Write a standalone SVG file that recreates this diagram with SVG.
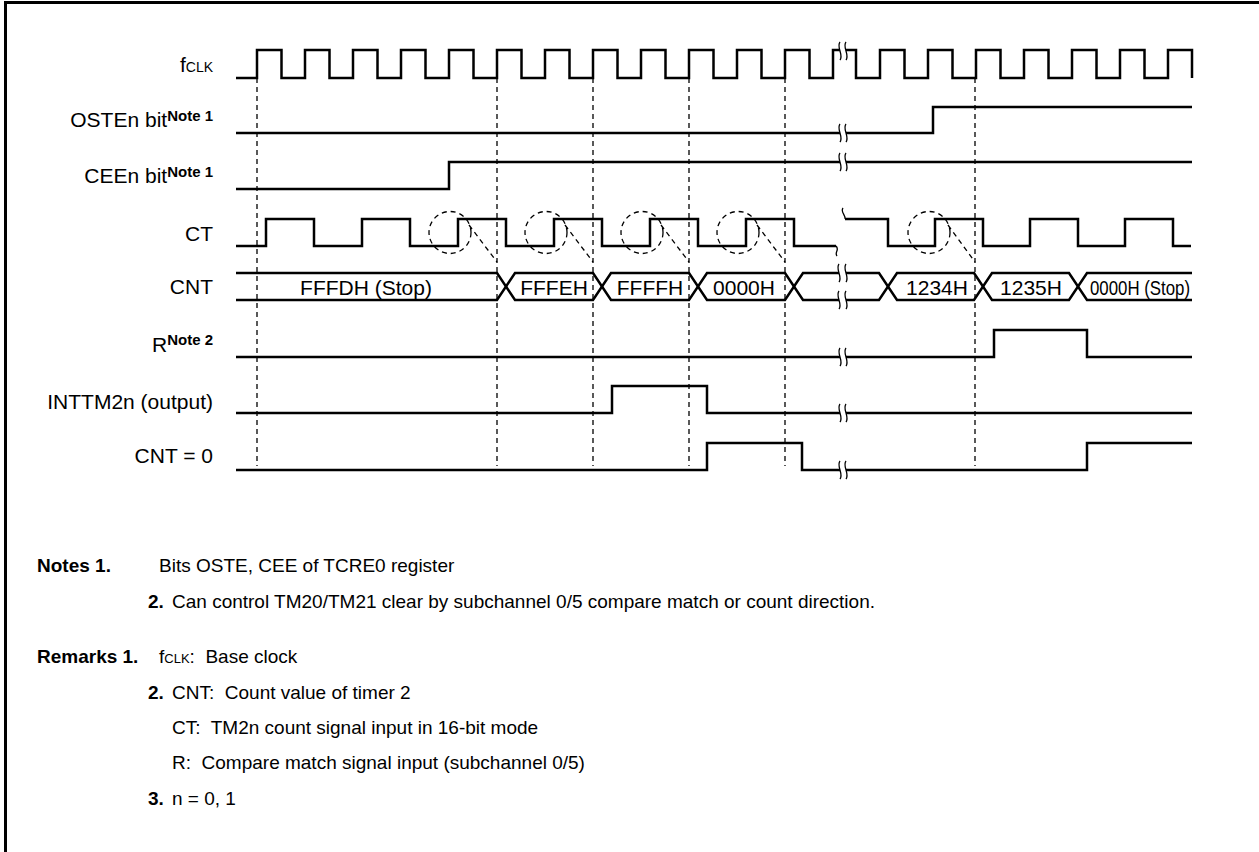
<svg xmlns="http://www.w3.org/2000/svg" width="1259" height="852" viewBox="0 0 1259 852">
<style>
text{font-family:"Liberation Sans",Arial,sans-serif;font-size:21px;fill:#000}
.lbl{text-anchor:end}
.sup{font-size:15px;font-weight:bold}
.sc{font-size:14px}
.b{font-weight:bold}
.mid{text-anchor:middle}
.sig{fill:none;stroke:#000;stroke-width:2.5;stroke-linejoin:miter}
.brk{fill:none;stroke:#000;stroke-width:1.3}
.dash{fill:none;stroke:#000;stroke-width:1.3;stroke-dasharray:5,4}
.note{font-size:19px}
</style>
<defs>
<path id="bk" d="M0,-9 C-4,-4 4,4 0,9" class="brk"/>
</defs>
<path d="M5.5,852 V2.5 H1259" fill="none" stroke="#000" stroke-width="3"/>

<g id="guides">
<path class="dash" d="M257,78 V466 M497,78 V466 M593,78 V466 M689,78 V466 M785,78 V466 M975,78 V466"/>
</g>

<g id="fclk">
<text class="lbl" x="213" y="72">f<tspan class="sc">CLK</tspan></text>
<path class="sig" d="M236,78 H257 V50 H281.5 V78 H305 V50 H329.5 V78 H353 V50 H377.5 V78 H401 V50 H425.5 V78 H449 V50 H473.5 V78 H497 V50 H521.5 V78 H545 V50 H569.5 V78 H593 V50 H617.5 V78 H641 V50 H665.5 V78 H689 V50 H713.5 V78 H737 V50 H761.5 V78 H785 V50 H809.5 V78 H833 V50 H840"/>
<path class="sig" d="M846,50 H856 V78 H880 V50 H904.5 V78 H928 V50 H952.5 V78 H976 V50 H1000.5 V78 H1024 V50 H1048.5 V78 H1072 V50 H1096.5 V78 H1120 V50 H1144.5 V78 H1168 V50 H1192 V78"/>
<use href="#bk" x="840" y="51"/><use href="#bk" x="846" y="51"/>
</g>

<g id="osten">
<text class="lbl" x="213" y="127">OSTEn bit<tspan class="sup" dy="-6">Note 1</tspan></text>
<path class="sig" d="M236,133 H840 M846,133 H933 V107 H1192"/>
<use href="#bk" x="840" y="133"/><use href="#bk" x="846" y="133"/>
</g>

<g id="ceen">
<text class="lbl" x="213" y="183">CEEn bit<tspan class="sup" dy="-6">Note 1</tspan></text>
<path class="sig" d="M236,189 H449 V162 H840 M846,162 H1192"/>
<use href="#bk" x="840" y="162"/><use href="#bk" x="846" y="162"/>
</g>

<g id="ct">
<text class="lbl" x="213" y="241">CT</text>
<path class="sig" d="M236,246 H266 V219 H314 V246 H362 V219 H410 V246 H458 V219 H506 V246 H554 V219 H602 V246 H650 V219 H698 V246 H746 V219 H794 V246 H836"/>
<path class="brk" d="M836,246 C840,250 834,252 837,256"/>
<path class="brk" d="M843,208 C840,212 846,215 845,219"/>
<path class="sig" d="M845,219 H888 V246 H935 V219 H983 V246 H1030 V219 H1078 V246 H1125 V219 H1173 V246 H1191"/>
<g class="dash">
<circle cx="450" cy="232.5" r="21"/><path d="M469,225 L497,262"/>
<circle cx="546" cy="232.5" r="21"/><path d="M565,225 L593,262"/>
<circle cx="642" cy="232.5" r="21"/><path d="M661,225 L689,262"/>
<circle cx="738" cy="232.5" r="21"/><path d="M757,225 L785,262"/>
<circle cx="929" cy="232.5" r="21"/><path d="M948,225 L975,262"/>
</g>
</g>

<g id="cnt">
<text class="lbl" x="213" y="294">CNT</text>
<path class="sig" d="M236,273 H497 L515,300 H593 L611,273 H689 L707,300 H785 L803,273 H839"/>
<path class="sig" d="M236,300 H497 L515,273 H593 L611,300 H689 L707,273 H785 L803,300 H839"/>
<path class="sig" d="M846,273 H879 L897,300 H974 L992,273 H1069 L1087,300 H1192"/>
<path class="sig" d="M846,300 H879 L897,273 H974 L992,300 H1069 L1087,273 H1192"/>
<use href="#bk" x="839" y="273"/><use href="#bk" x="846" y="273"/>
<use href="#bk" x="839" y="300"/><use href="#bk" x="846" y="300"/>
<text class="mid" x="366" y="295">FFFDH (Stop)</text>
<text class="mid" x="554" y="295">FFFEH</text>
<text class="mid" x="650" y="295">FFFFH</text>
<text class="mid" x="744" y="295">0000H</text>
<text class="mid" x="937" y="295">1234H</text>
<text class="mid" x="1031" y="295">1235H</text>
<text x="1090" y="295" font-size="18" textLength="100" lengthAdjust="spacingAndGlyphs">0000H (Stop)</text>
</g>

<g id="r">
<text class="lbl" x="213" y="352">R<tspan class="sup" dy="-7">Note 2</tspan></text>
<path class="sig" d="M236,357 H840 M846,357 H994 V330 H1087 V357 H1192"/>
<use href="#bk" x="840" y="357"/><use href="#bk" x="846" y="357"/>
</g>

<g id="inttm">
<text class="lbl" x="213" y="409">INTTM2n (output)</text>
<path class="sig" d="M236,413 H612 V386 H707 V413 H840 M846,413 H1192"/>
<use href="#bk" x="840" y="413"/><use href="#bk" x="846" y="413"/>
</g>

<g id="cnt0">
<text class="lbl" x="213" y="463">CNT = 0</text>
<path class="sig" d="M236,470 H707 V443 H802 V470 H840 M846,470 H1087 V443 H1192"/>
<use href="#bk" x="840" y="470"/><use href="#bk" x="846" y="470"/>
</g>

<g id="notes">
<text x="37" y="572" class="note b">Notes 1.</text>
<text x="159" y="572" class="note">Bits OSTE, CEE of TCRE0 register</text>
<text x="148" y="608" class="note b">2.</text>
<text x="172" y="608" class="note">Can control TM20/TM21 clear by subchannel 0/5 compare match or count direction.</text>
<text x="37" y="663" class="note b">Remarks 1.</text>
<text x="159" y="663" class="note">f<tspan font-size="13">CLK</tspan>:&#160; Base clock</text>
<text x="148" y="699" class="note b">2.</text>
<text x="172" y="699" class="note">CNT:&#160; Count value of timer 2</text>
<text x="172" y="734" class="note">CT:&#160; TM2n count signal input in 16-bit mode</text>
<text x="172" y="769" class="note">R:&#160; Compare match signal input (subchannel 0/5)</text>
<text x="148" y="805" class="note b">3.</text>
<text x="172" y="805" class="note">n = 0, 1</text>
</g>
</svg>
